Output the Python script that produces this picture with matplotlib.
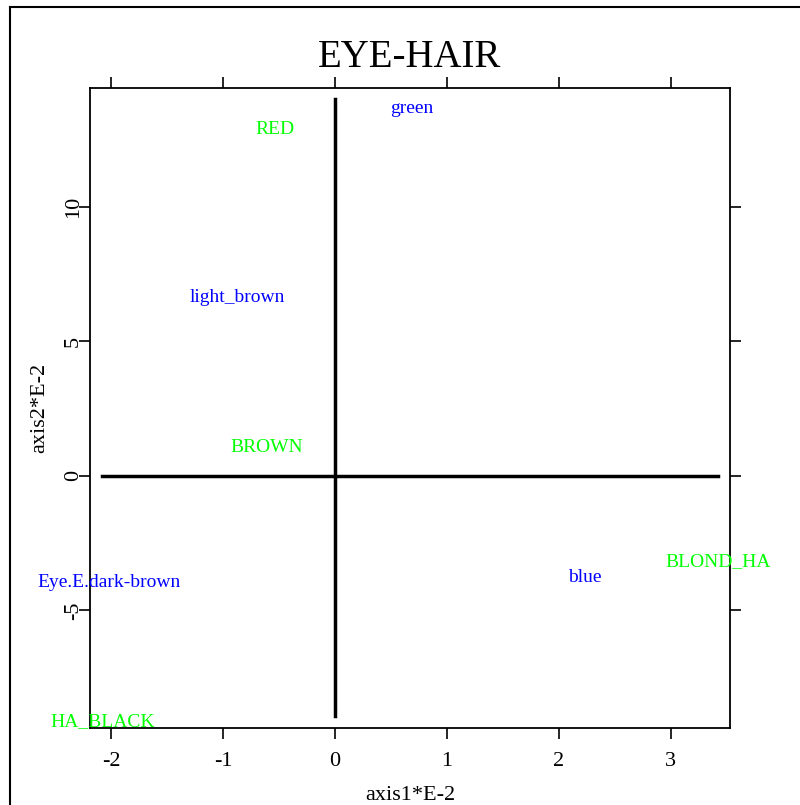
import matplotlib.pyplot as plt
from matplotlib.lines import Line2D

plt.rcParams['font.family'] = ['Liberation Serif', 'DejaVu Serif']

# eye colours (blue) and hair colours (green) on the first two axes
eye_labels = ['green', 'light_brown', 'Eye.E.dark-brown', 'blue']
eye_x = [0.69, -0.87, -2.02, 2.23]
eye_y = [13.72, 6.73, -3.87, -3.68]

hair_labels = ['RED', 'BROWN', 'BLOND_HA', 'HA_BLACK']
hair_x = [-0.54, -0.61, 3.42, -2.08]
hair_y = [12.97, 1.15, -3.10, -9.07]

xticks = [-2, -1, 0, 1, 2, 3]
yticks = [-5, 0, 5, 10]

fig = plt.figure(figsize=(8.0, 8.05), dpi=100)
ax = fig.add_axes([0.1125, 0.0957, 0.8, 0.795])

# outer frame (only top and left visible)
fig.add_artist(Line2D([10/800, 10/800], [0, 1 - 7/805], transform=fig.transFigure,
                      color='black', lw=1.5))
fig.add_artist(Line2D([10/800, 1], [1 - 7/805, 1 - 7/805], transform=fig.transFigure,
                      color='black', lw=1.5))

all_x = eye_x + hair_x
all_y = eye_y + hair_y
ax.plot([min(all_x), max(all_x)], [0, 0], color='black', lw=2.5)
ax.plot([0, 0], [min(all_y) + 0.15, max(all_y) + 0.28], color='black', lw=2.5)

for lab, x, y in zip(eye_labels, eye_x, eye_y):
    ax.text(x, y - 0.08, lab, color='#0000ff', fontsize=14, ha='center', va='center')
for lab, x, y in zip(hair_labels, hair_x, hair_y):
    ax.text(x, y - 0.08, lab, color='#00ff00', fontsize=14, ha='center', va='center')

ax.set_xlim(-2.19, 3.53)
ax.set_ylim(-9.37, 14.42)
ax.set_xticks(xticks)
ax.set_xticklabels([str(t) for t in xticks])
ax.set_yticks(yticks)
ax.set_yticklabels([str(t) for t in yticks], rotation=90, va='center')
ax.tick_params(axis='both', direction='out', length=8, width=1.2, labelsize=16,
               top=True, right=True)
ax.tick_params(axis='x', pad=9)
ax.tick_params(axis='y', pad=-3)
for s in ax.spines.values():
    s.set_linewidth(1.3)

ax.set_xlabel('axis1*E-2', fontsize=16, labelpad=11)
ax.set_ylabel('axis2*E-2', fontsize=16, labelpad=11)
ax.set_title('EYE-HAIR', fontsize=28, pad=15)

fig.savefig('out.png', dpi=100)
